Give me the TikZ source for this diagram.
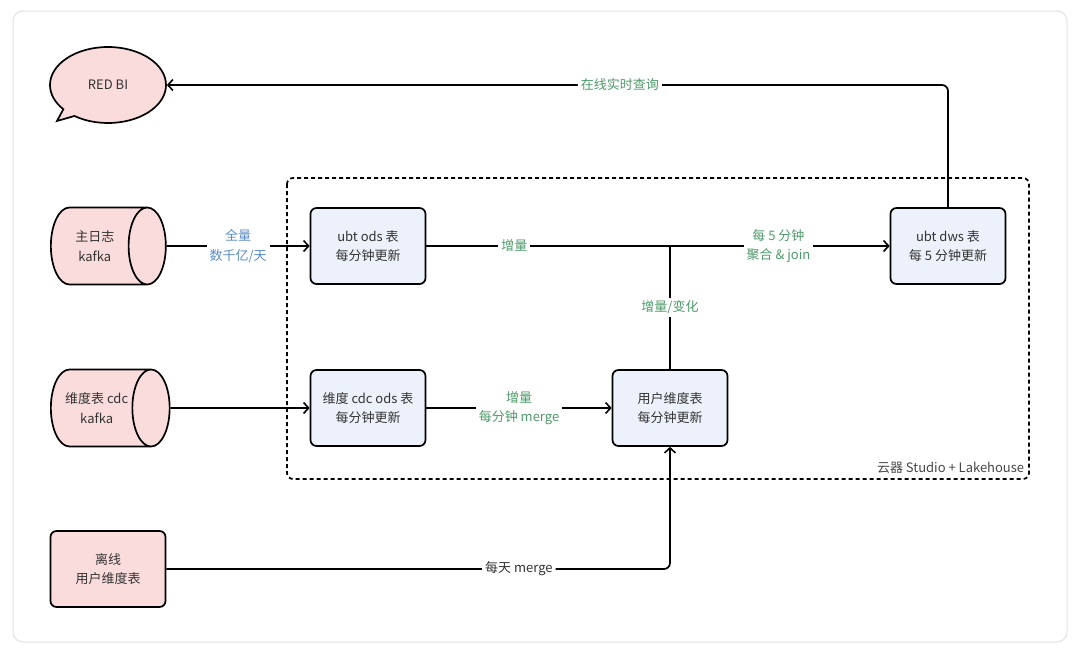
\documentclass[tikz,border=0pt]{standalone}
\usepackage{fontspec}
\setmainfont{Noto Sans CJK SC}
\usepackage{xcolor}
\usepackage{tikz}
\usetikzlibrary{shapes, shapes.geometric, shapes.callouts, arrows.meta, positioning}

\definecolor{pinkfill}{HTML}{FBDCDC}
\definecolor{bluefill}{HTML}{EDF1FB}
\definecolor{lblgreen}{HTML}{4F9A6A}
\definecolor{lblblue}{HTML}{5B8CC6}
\definecolor{txtgray}{HTML}{333333}
\definecolor{framegray}{HTML}{E2E2E2}

\begin{document}
\begin{tikzpicture}[x=1pt, y=-1pt, line width=1.7pt,
            font=\fontsize{13}{19.5}\selectfont, text=txtgray,
            box/.style={draw, rectangle, rounded corners=6pt, fill=bluefill, minimum width=115pt, minimum height=76pt, align=center},
            srcbox/.style={box, fill=pinkfill},
            tank/.style={draw, cylinder, aspect=1, fill=pinkfill, minimum width=77pt, minimum height=115pt, align=center, anchor=west},
            lbl/.style={fill=white, align=center, text=lblgreen, inner sep=3pt},
            arr/.style={-{Straight Barb[length=5pt, width=11pt, line width=1.6pt]}}]

            \useasboundingbox (0,0) rectangle (1080,653);
            \draw[framegray, line width=1pt, rounded corners=10pt] (13,11) rectangle (1067,642);

            \draw[dash pattern=on 4pt off 3pt, rounded corners=6pt] (287,178) rectangle (1029,479);
            \node[anchor=south east, inner sep=0pt, text=txtgray!90] (zone) at (1025,474) {云器 Studio + Lakehouse};

            \node[draw, ellipse callout, fill=pinkfill, minimum width=116pt, minimum height=76pt,
                  callout absolute pointer={(57,121)}] (bi) at (108,85) {RED BI};

            \node[tank] (logsrc) at (50,246) {主日志\\kafka};
            \node[tank] (dimsrc) at (50,408) {维度表 cdc\\kafka};
            \node[srcbox] (offline) at (108,569) {离线\\用户维度表};

            \node[box] (ubtods) at (368,246) {ubt ods 表\\每分钟更新};
            \node[box] (cdcods) at (368,408) {维度 cdc ods 表\\每分钟更新};
            \node[box] (userdim) at (670,408) {用户维度表\\每分钟更新};
            \node[box] (ubtdws) at (948,246) {ubt dws 表\\每 5 分钟更新};

            \coordinate (join) at (userdim.north |- ubtods.east);

            \draw[arr, rounded corners=6pt] (ubtdws.north) |- (bi.east) node[lbl, pos=0.71] {在线实时查询};
            \draw[arr] (logsrc) -- (ubtods) node[lbl, midway, text=lblblue] {全量\\数千亿/天};
            \draw[arr] (ubtods) -- (ubtdws) node[lbl, pos=0.19] {增量} node[lbl, pos=0.76] {每 5 分钟\\聚合 \& join};
            \draw (userdim) -- (join) node[lbl, midway] {增量/变化};
            \draw[arr] (dimsrc) -- (cdcods);
            \draw[arr] (cdcods) -- (userdim) node[lbl, midway] {增量\\每分钟 merge};
            \draw[arr, rounded corners=6pt] (offline) -| (userdim.south) node[lbl, pos=0.35, text=txtgray] {每天 merge};
        \end{tikzpicture}
\end{document}
